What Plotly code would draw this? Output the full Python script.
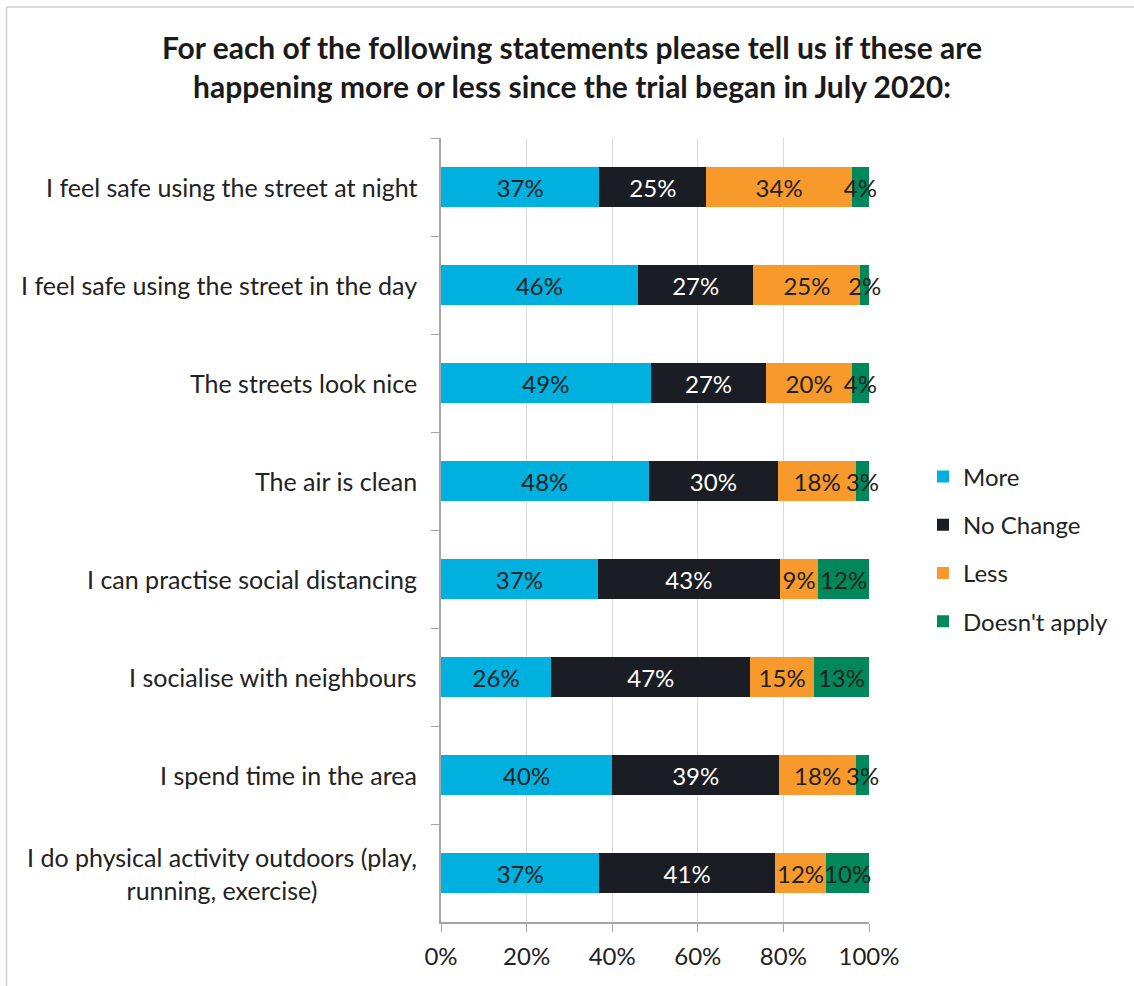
import plotly.graph_objects as go

# Survey statements (top to bottom) and response shares (%)
statements = [
    "I feel safe using the street at night",
    "I feel safe using the street in the day",
    "The streets look nice",
    "The air is clean",
    "I can practise social distancing",
    "I socialise with neighbours",
    "I spend time in the area",
    "I do physical activity outdoors (play,<br>running, exercise)",
]
more = [37, 46, 49, 48, 37, 26, 40, 37]
no_change = [25, 27, 27, 30, 43, 47, 39, 41]
less = [34, 25, 20, 18, 9, 15, 18, 12]
doesnt_apply = [4, 2, 4, 3, 12, 13, 3, 10]

series_names = ["More", "No Change", "Less", "Doesn't apply"]
series_values = [more, no_change, less, doesnt_apply]
series_colors = ["#00B0DF", "#1A1D23", "#F7992B", "#00875A"]
label_colors = ["#222222", "#FFFFFF", "#222222", "#222222"]
x_ticks = [0, 20, 40, 60, 80, 100]

FONT = "Lato, 'Open Sans', sans-serif"
W, H = 1134, 986
L, R, T, B = 441, 265, 138, 64
pw, ph = W - L - R, H - T - B

fig = go.Figure()
for name, vals, col, tcol in zip(series_names, series_values, series_colors, label_colors):
    fig.add_trace(go.Bar(
        y=statements, x=vals, name=name, orientation="h",
        marker=dict(color=col, line=dict(width=0)),
        text=vals, texttemplate="%{text}%", textposition="inside",
        insidetextanchor="middle", textangle=0, constraintext="none",
        insidetextfont=dict(family=FONT, size=24, color=tcol),
        cliponaxis=False,
        legendgroup=name,
        width=0.4,
    ))

# Statement labels, each line centred within its block
for s in statements:
    fig.add_annotation(
        x=-22 / pw, xref="paper", xanchor="right",
        y=s, yref="y", yanchor="middle",
        text=s, showarrow=False, align="center",
        font=dict(family=FONT, size=25, color="#222222"),
    )

# Chart frame (top and left edges)
fx0 = (6.5 - L) / pw
fy_top = (H - B - 7) / ph
fig.add_shape(type="line", xref="paper", yref="paper",
              x0=fx0, x1=(W - L) / pw + 0.05, y0=fy_top, y1=fy_top,
              line=dict(color="#D0D0D0", width=1.5))
fig.add_shape(type="line", xref="paper", yref="paper",
              x0=fx0, x1=fx0, y0=fy_top, y1=-B / ph - 0.05,
              line=dict(color="#D0D0D0", width=1.5))

fig.update_layout(
    width=W, height=H,
    margin=dict(l=L, r=R, t=T, b=B, autoexpand=False),
    paper_bgcolor="white", plot_bgcolor="white",
    barmode="stack", barnorm="percent",
    title=dict(
        text="For each of the following statements please tell us if these are<br>happening more or less since the trial began in July 2020:",
        x=572 / W, xanchor="center", xref="container",
        y=1 - 59 / H, yanchor="middle", yref="container",
        font=dict(family=FONT, size=30, color="#1A1A1A", weight="bold"),
    ),
    font=dict(family=FONT, size=24, color="#222222"),
    xaxis=dict(
        range=[0, 100], tickvals=x_ticks, ticktext=[f"{v}%" for v in x_ticks],
        showgrid=True, gridcolor="#D9D9D9", gridwidth=1,
        showline=True, linecolor="#A6A6A6", linewidth=1.5,
        ticks="outside", ticklen=8, tickcolor="#A6A6A6",
        ticklabelstandoff=4,
        tickfont=dict(family=FONT, size=24, color="#222222"),
        zeroline=False, fixedrange=True,
    ),
    yaxis=dict(
        categoryorder="array", categoryarray=statements, autorange="reversed",
        showticklabels=False, tickson="boundaries",
        ticks="outside", ticklen=8, tickcolor="#A6A6A6",
        showline=True, linecolor="#A6A6A6", linewidth=1.5,
        showgrid=False, zeroline=False,
    ),
    legend=dict(
        x=(923 - L) / pw, xanchor="left", y=0.5 - 19 / ph, yanchor="middle",
        traceorder="grouped", tracegroupgap=14,
        font=dict(family=FONT, size=24, color="#222222"),
        bgcolor="rgba(0,0,0,0)",
    ),
    bargap=0.6,
)

fig.write_html("out.html")
